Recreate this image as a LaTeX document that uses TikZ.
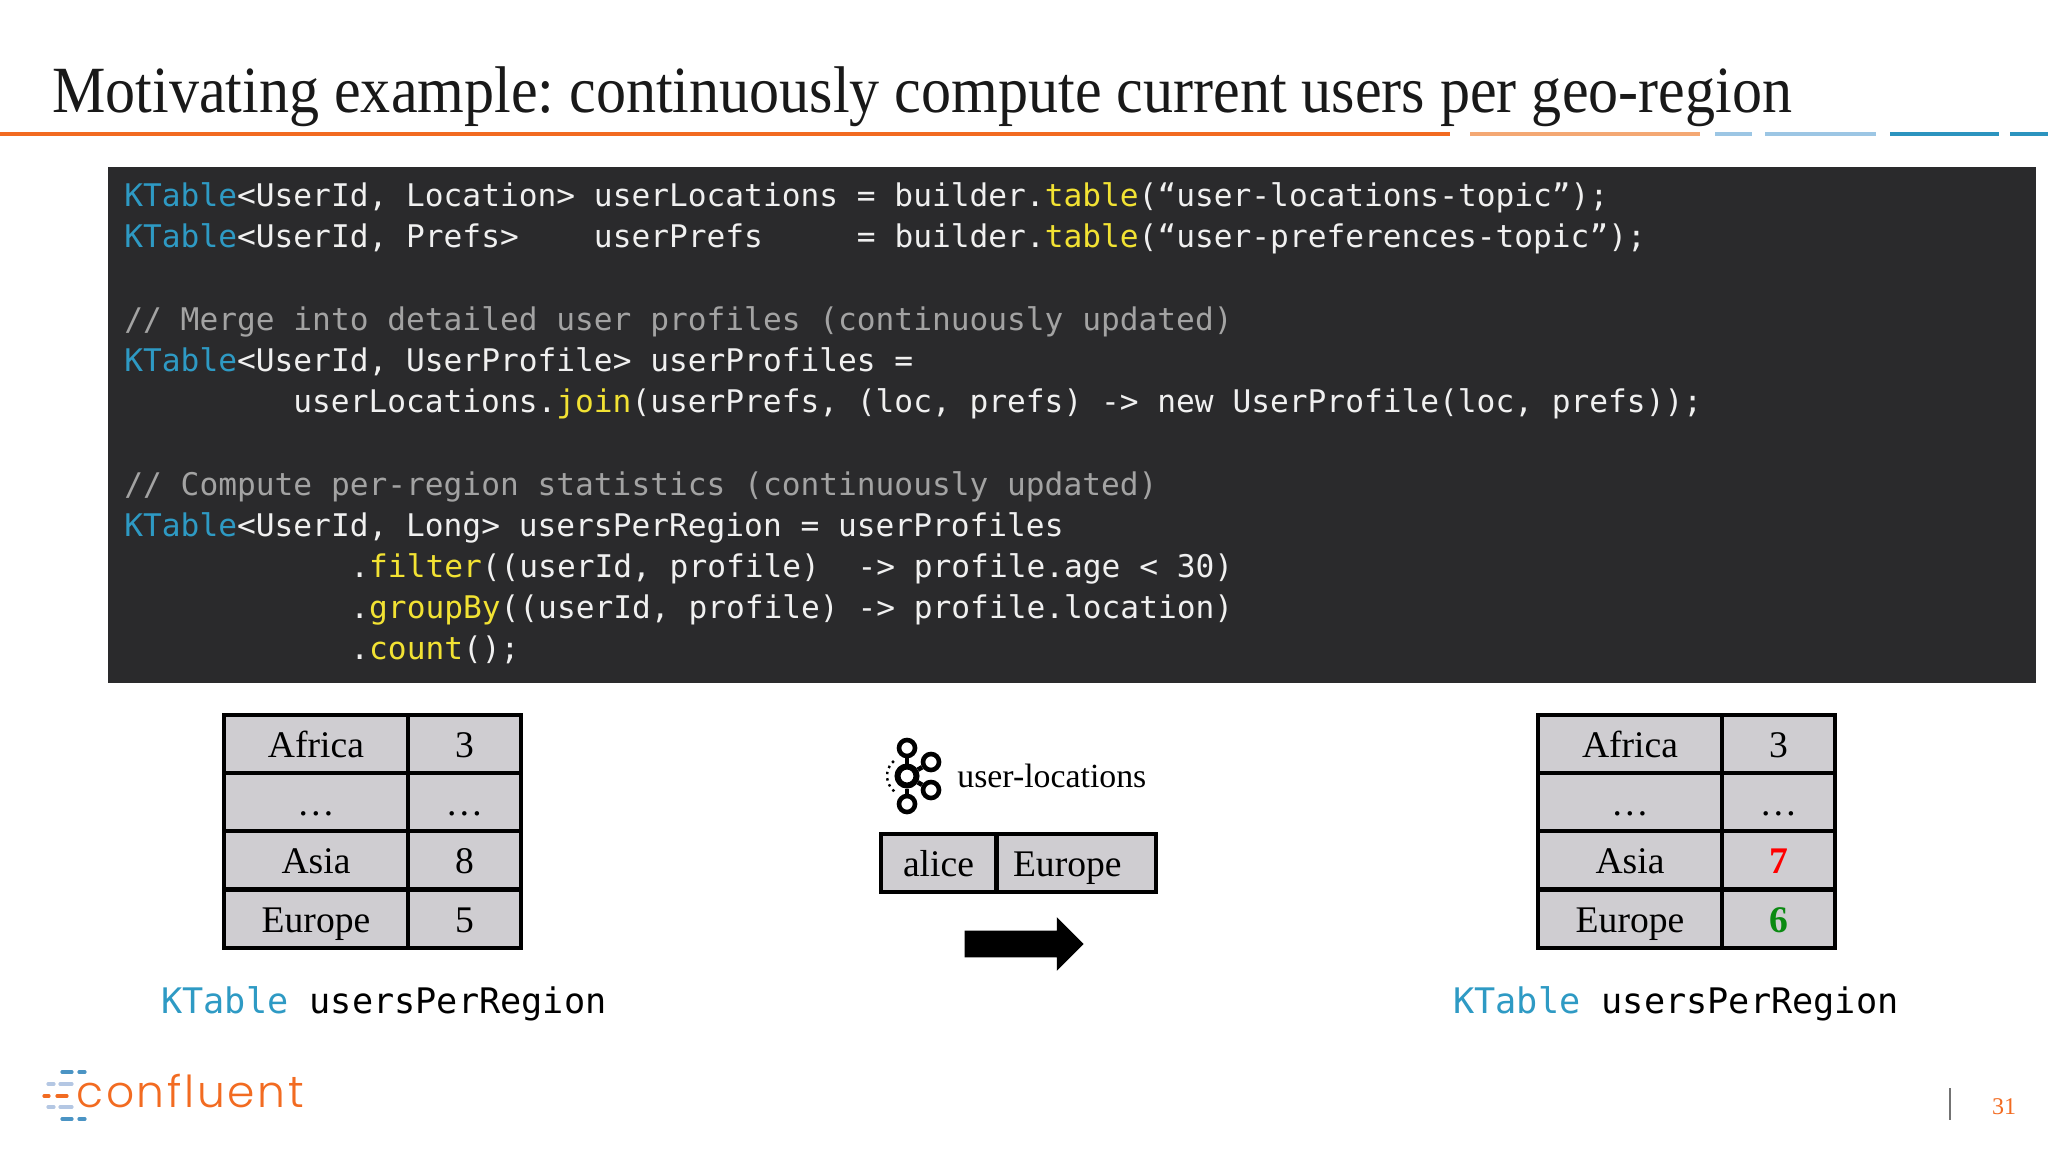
\documentclass[tikz,border=0pt]{standalone}
\usepackage{fontspec}
\setmainfont{Liberation Serif}
\newfontfamily\titlefont[FakeStretch=0.91]{Liberation Serif}
\newfontfamily\codefont{DejaVu Sans Mono}
\newfontfamily\logofont[UprightFont=* Light,LetterSpace=6]{Poppins}
\usetikzlibrary{shapes.arrows}
\definecolor{barorange}{HTML}{F26B21}
\definecolor{barpeach}{HTML}{F4A873}
\definecolor{barsky}{HTML}{9CC6E4}
\definecolor{barteal}{HTML}{2C94BF}
\definecolor{codebg}{HTML}{2A2A2C}
\definecolor{codefg}{HTML}{F0F0F0}
\definecolor{codecomment}{HTML}{A3A3A3}
\definecolor{ktblue}{HTML}{2E9AC4}
\definecolor{mthyellow}{HTML}{F2E233}
\definecolor{cellgray}{HTML}{CFCDD1}
\definecolor{logolight}{HTML}{B4C7E3}
\definecolor{logoblue}{HTML}{4B94C4}
\definecolor{numgreen}{HTML}{0B8A12}
\newcommand{\kt}{\textcolor{ktblue}{KTable}}
\newcommand{\mth}[1]{\textcolor{mthyellow}{#1}}
\tikzstyle{bar}=[line width=2.2pt]
\tikzstyle{codeline}=[anchor=base west,inner sep=0pt,text=codefg,font=\codefont\fontsize{15.6}{18}\selectfont]
\tikzstyle{commentline}=[codeline,text=codecomment]
\tikzstyle{cell}=[rectangle,fill=cellgray,draw=black,line width=2pt,inner sep=0pt,minimum height=29pt,text height=15.5pt,text depth=2pt,font=\fontsize{18.8}{20}\selectfont]
\tikzstyle{tablelabel}=[anchor=base west,inner sep=0pt,font=\codefont\fontsize{17.6}{20}\selectfont]
\tikzstyle{smallring}=[circle,draw=black,line width=2.3pt,minimum size=8pt,inner sep=0pt]
\tikzstyle{bigring}=[circle,draw=black,line width=3pt,minimum size=9.5pt,inner sep=0pt]
\tikzstyle{logodash}=[line width=1.6pt,line cap=round]
\begin{document}
\frenchspacing
\begin{tikzpicture}[x=0.5pt,y=-0.5pt]
    \useasboundingbox (0,0) rectangle (2048,1152);
    % Title and the rule under it
    \node[anchor=base west,inner sep=0pt,font=\titlefont\fontsize{33}{36}\selectfont,text=black!90] (title) at (52,112)
        {Motivating example: continuously compute current users per geo-region};
    \foreach \from/\to/\col in {0/1450/barorange, 1470/1700/barpeach, 1715/1752/barsky,
                                1765/1876/barsky, 1890/1999/barteal, 2010/2048/barteal}
        \draw[bar,\col] (\from,134) -- (\to,134);

    % Code block
    \node[rectangle,fill=codebg,inner sep=0pt,minimum width=964pt,minimum height=258pt] (codebox) at (1072,425) {};
    \node[codeline] (line1) at (124,206) {\kt<UserId, Location> userLocations = builder.\mth{table}(“user-locations-topic”);};
    \node[codeline] (line2) at (124,247) {\kt<UserId, Prefs>~~~~userPrefs~~~~~= builder.\mth{table}(“user-preferences-topic”);};
    \node[commentline] (line3) at (124,330) {// Merge into detailed user profiles (continuously updated)};
    \node[codeline] (line4) at (124,371) {\kt<UserId, UserProfile> userProfiles =};
    \node[codeline] (line5) at (293,412) {userLocations.\mth{join}(userPrefs, (loc, prefs) -> new UserProfile(loc, prefs));};
    \node[commentline] (line6) at (124,495) {// Compute per-region statistics (continuously updated)};
    \node[codeline] (line7) at (124,536) {\kt<UserId, Long> usersPerRegion = userProfiles};
    \node[codeline] (line8) at (350,577) {.\mth{filter}((userId, profile)~~-> profile.age < 30)};
    \node[codeline] (line9) at (350,618) {.\mth{groupBy}((userId, profile) -> profile.location)};
    \node[codeline] (line10) at (350,659) {.\mth{count}();};

    % Both region tables
    \foreach \tbl/\dx/\asiaval/\europeval in {old/0/8/5,
             new/1314/{\textcolor{red}{\textbf{7}}}/{\textcolor{numgreen}{\textbf{6}}}} {
        \foreach \y/\rowname/\region/\num in {744/africa/Africa/3, 802/dots/…/…,
                 860/asia/Asia/\asiaval, 918.5/europe/Europe/\europeval} {
            \node[cell,minimum width=92pt] (\tbl\rowname key) at ({316+\dx},\y) {\region};
            \node[cell,minimum width=56.5pt] (\tbl\rowname val) at ({464.5+\dx},\y) {\num};
        }
    }
    \node[tablelabel] (oldlabel) at (161,1013) {\kt{} usersPerRegion};
    \node[tablelabel] (newlabel) at (1453,1013) {\kt{} usersPerRegion};

    % Kafka topic with its record
    \node[bigring] (hub) at (907,776) {};
    \foreach \pos/\name in {{(907,748)/ringa}, {(931,762)/ringb}, {(931,790)/ringc}, {(907,804)/ringd}}
        \node[smallring] (\name) at \pos {};
    \foreach \dest in {ringa,ringb,ringc,ringd}
        \draw[line width=2.3pt] (hub) -- (\dest);
    \draw[line width=1.2pt,dotted] (907,776) ++(130:20) arc (130:230:20);
    \node[anchor=base west,inner sep=0pt,font=\fontsize{16.9}{18}\selectfont] (topic) at (957,787) {user-locations};
    \node[cell,minimum width=57.5pt] (reckey) at (938.5,863) {alice};
    \node[cell,minimum width=79.5pt,text width=63.5pt,align=left] (recval) at (1076.5,863) {Europe};
    \node[single arrow,fill=black,inner sep=0pt,text height=13pt,text depth=0pt,text width=0pt,minimum width=26.5pt,minimum height=59.5pt,
          single arrow head extend=6.75pt] (update) at (1017.5,944) {};

    % Logo and page number
    \foreach \xa/\xb/\xc/\xd/\y/\col in {62/72/79/85/1072/logoblue, 48/54/60/72/1084/logolight,
             44/49/57/67/1096/barorange, 48/54/60/72/1107/logolight, 62/72/79/85/1119/logoblue} {
        \draw[logodash,\col] (\xa,\y) -- (\xb,\y);
        \draw[logodash,\col] (\xc,\y) -- (\xd,\y);
    }
    \node[anchor=base west,inner sep=0pt,text=barorange,font=\logofont\fontsize{22}{24}\selectfont] (logo) at (76,1107) {confluent};
    \draw[line width=1pt,black!55] (1950,1088) -- (1950,1120);
    \node[inner sep=0pt,text=barorange,font=\fontsize{12}{14}\selectfont] (pagenum) at (2004,1107) {31};
\end{tikzpicture}
\end{document}
